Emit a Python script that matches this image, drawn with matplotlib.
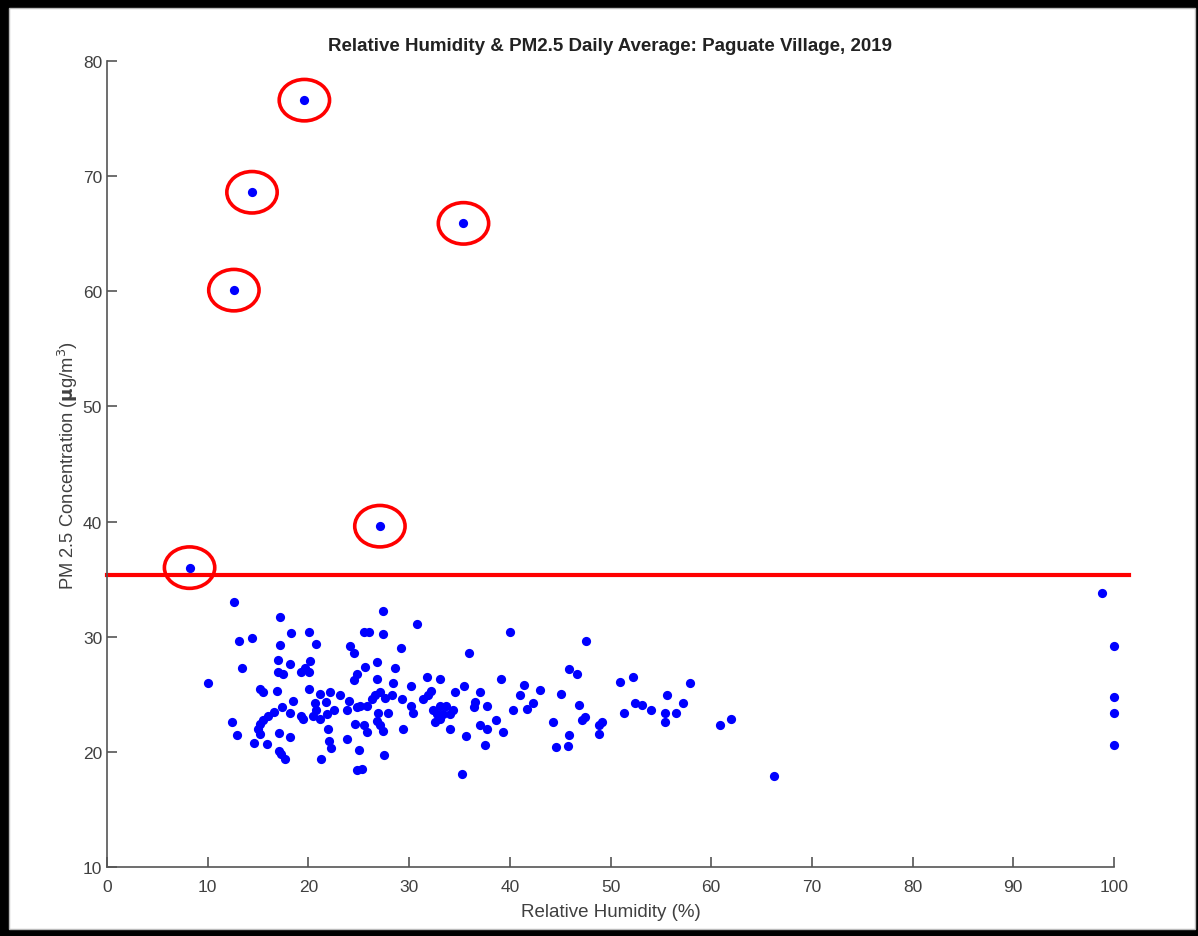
import matplotlib
matplotlib.use('Agg')
import matplotlib.pyplot as plt
import matplotlib.patches as patches

# relative humidity (%) and PM2.5 daily average (ug/m3)
humidity = [
	8.2, 12.6, 14.4, 19.6, 35.4, 27.1,
	12.6, 10.0, 17.2, 18.3, 20.1, 13.1, 14.4, 17.2, 20.8, 24.1, 24.5, 13.4, 17.0, 18.2,
	20.2, 19.7, 19.3, 20.1, 17.0, 17.5, 15.2, 15.5, 16.9, 20.1, 18.5,
	21.2, 22.1, 23.1, 24.0, 20.7, 21.7, 22.5, 20.8, 21.8, 21.2, 20.5,
	23.8, 23.8,
	17.4, 16.6, 16.0, 15.5, 15.2, 15.0, 15.2,
	18.2, 19.3, 19.5, 12.4, 12.9, 14.6, 15.9, 17.1, 18.2, 21.9, 22.0, 22.2, 17.1, 17.3, 17.7, 21.3,
	27.4, 30.8, 25.5, 26.0, 27.4, 29.2, 40.0, 35.9, 47.6, 25.6, 26.8, 28.6, 24.8, 24.5, 26.8, 28.4,
	31.8, 33.1, 30.2, 39.1, 41.4, 43.0, 45.9, 46.7, 35.5, 34.6, 32.2, 31.9, 31.4,
	26.6, 27.1, 27.6, 26.3, 28.3, 29.3, 30.2, 30.4, 25.1, 25.8, 24.8, 27.9, 26.9, 26.8, 27.1, 27.4,
	24.6, 25.5, 25.8, 29.4,
	32.4, 33.1, 33.7, 34.4, 32.8, 33.4, 34.1, 32.6, 33.1, 34.1, 35.7,
	37.0, 36.5, 36.4, 37.7, 37.0, 37.7, 38.6, 39.3, 37.5, 40.3, 41.0, 41.7, 42.3, 44.3, 45.1, 46.9,
	47.5, 45.9, 45.8, 44.6, 25.0, 27.5, 24.8, 25.3, 35.3,
	50.9, 52.2, 57.9, 55.6, 47.2, 49.2, 48.9, 48.9, 51.3, 52.4, 53.1, 54.0, 55.4, 55.4, 56.5, 57.2,
	60.9, 62.0, 66.2,
	98.8, 100.0, 100.0, 100.0, 100.0,
]
pm25 = [
	36.0, 60.1, 68.6, 76.6, 65.9, 39.6,
	33.0, 26.0, 31.7, 30.3, 30.4, 29.6, 29.9, 29.3, 29.4, 29.2, 28.6, 27.3, 28.0, 27.6,
	27.9, 27.3, 26.9, 26.9, 26.9, 26.8, 25.5, 25.2, 25.3, 25.5, 24.4,
	25.0, 25.2, 24.9, 24.4, 24.2, 24.3, 23.6, 23.6, 23.3, 22.85, 23.1,
	23.6, 21.1,
	23.9, 23.5, 23.1, 22.8, 22.4, 22.0, 21.55,
	23.4, 23.1, 22.85, 22.6, 21.5, 20.8, 20.7, 21.6, 21.3, 22.0, 20.9, 20.3, 20.1, 19.8, 19.4, 19.4,
	32.2, 31.1, 30.4, 30.4, 30.2, 29.0, 30.4, 28.6, 29.6, 27.4, 27.8, 27.3, 26.8, 26.2, 26.3, 26.0,
	26.5, 26.3, 25.7, 26.3, 25.8, 25.4, 27.2, 26.8, 25.7, 25.2, 25.3, 24.9, 24.6,
	24.9, 25.2, 24.7, 24.6, 24.9, 24.6, 23.95, 23.4, 24.0, 24.0, 23.9, 23.4, 23.4, 22.7, 22.3, 21.8,
	22.4, 22.3, 21.7, 22.0,
	23.65, 24.0, 24.0, 23.6, 23.3, 23.3, 23.3, 22.6, 22.85, 22.0, 21.4,
	25.2, 24.3, 23.9, 23.95, 22.3, 22.0, 22.8, 21.7, 20.6, 23.65, 24.9, 23.7, 24.2, 22.6, 25.0, 24.1,
	23.0, 21.5, 20.5, 20.4, 20.2, 19.7, 18.4, 18.5, 18.1,
	26.1, 26.5, 26.0, 24.9, 22.8, 22.6, 22.3, 21.55, 23.4, 24.2, 24.1, 23.6, 23.4, 22.6, 23.4, 24.2,
	22.3, 22.85, 17.9,
	33.8, 29.2, 24.8, 23.4, 20.6,
]

standard = 35.4
x_ticks = list(range(0, 101, 10))
y_ticks = list(range(10, 81, 10))

plt.rcParams['font.family'] = ['Liberation Sans', 'DejaVu Sans']
grey = '#404040'

fig = plt.figure(figsize=(11.98, 9.37), dpi=100, facecolor='black')
# white page inside the black frame
fig.patches.append(patches.Rectangle((9/1198, 7/937), 1186/1198, 921/937,
	transform=fig.transFigure, facecolor='white', edgecolor='#bbbbbb', lw=1, zorder=-10))

ax = fig.add_axes([107/1198, 69/937, 1007/1198, 806/937])
ax.set_facecolor('none')

ax.scatter(humidity, pm25, s=44, color='#0000ff', zorder=3, linewidths=0, clip_on=False)
ax.plot([0, 101.5], [standard, standard], color='red', lw=3, clip_on=False, zorder=2)

# circle the days above the standard
for h, p in zip(humidity, pm25):
	if p > standard:
		ax.add_patch(patches.Ellipse((h, p), 5.0, 3.6, fill=False, edgecolor='red', lw=2.6, zorder=4))

ax.set_xlim(0, 100)
ax.set_ylim(10, 80)
ax.set_xticks(x_ticks)
ax.set_yticks(y_ticks)
for s in ['top', 'right']:
	ax.spines[s].set_visible(False)
for s in ['left', 'bottom']:
	ax.spines[s].set_color('#555555')
	ax.spines[s].set_linewidth(1.2)
ax.tick_params(direction='in', length=7, width=1.2, color='#555555', labelcolor=grey, labelsize=12.5)
ax.tick_params(axis='x', pad=9)

ax.set_title('Relative Humidity & PM2.5 Daily Average: Paguate Village, 2019',
	fontsize=13.5, fontweight='bold', color='#222222', pad=8)
ax.set_xlabel('Relative Humidity (%)', fontsize=13.5, color=grey, labelpad=6)
ax.set_ylabel(r'PM 2.5 Concentration ($\mathbf{\mu}$g/m$^3$)', fontsize=13.2, color=grey, labelpad=2)

fig.savefig('out.png', dpi=100, facecolor='black')
